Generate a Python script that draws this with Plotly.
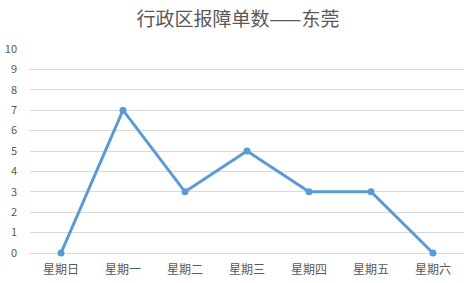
import plotly.graph_objects as go

categories = ["星期日", "星期一", "星期二", "星期三", "星期四", "星期五", "星期六"]
values = [0, 7, 3, 5, 3, 3, 0]
y_ticks = list(range(0, 11))

fig = go.Figure()
fig.add_trace(go.Scatter(
    x=categories, y=values, mode="lines+markers",
    line=dict(color="#5B9BD5", width=3),
    marker=dict(color="#5B9BD5", size=7),
    cliponaxis=False,
))
fig.update_layout(
    width=476, height=283,
    margin=dict(l=30, r=12, t=49, b=30),
    paper_bgcolor="white", plot_bgcolor="white",
    font=dict(family="Noto Sans CJK SC", color="#595959", size=11),
    title=dict(text="行政区报障单数——东莞", x=0.5, xanchor="center", y=0.93, yanchor="middle",
               font=dict(size=19, color="#595959", family="Noto Sans CJK SC")),
    showlegend=False,
)
fig.update_xaxes(showgrid=False, showline=False, ticks="", range=[-0.5, 6.5], automargin=False,
                 tickfont=dict(size=12, color="#595959"), ticklabelstandoff=8)
fig.update_yaxes(range=[0, 10], tickvals=y_ticks, showgrid=True, gridcolor="#D9D9D9",
                 gridwidth=1, zeroline=True, zerolinecolor="#D9D9D9", zerolinewidth=1,
                 showline=False, ticks="", tickfont=dict(size=11, color="#595959"),
                 ticklabelstandoff=12, automargin=False)
fig.write_html("out.html")
